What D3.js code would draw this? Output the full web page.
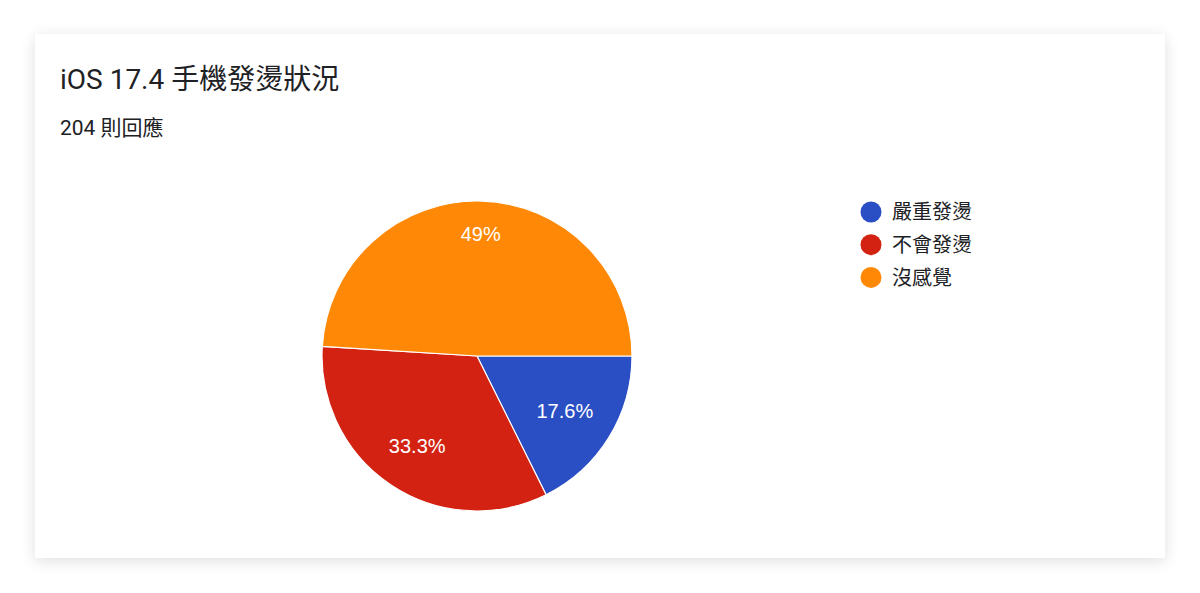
<!DOCTYPE html>
<html>
<head>
<meta charset="utf-8">
<script src="https://cdn.jsdelivr.net/npm/d3@7"></script>
<style>
    html, body { margin: 0; padding: 0; background: #ffffff; }
    #card {
        position: absolute;
        left: 35px; top: 34px;
        width: 1130px; height: 524px;
        background: #ffffff;
        box-shadow: 0 3px 14px rgba(0, 0, 0, 0.13);
    }
    svg { display: block; }
</style>
</head>
<body>
<div id="card"><svg id="pie-chart"></svg></div>
<script>
const categories = ["嚴重發燙", "不會發燙", "沒感覺"];
const responses = [36, 68, 100];
const percentLabels = ["17.6%", "33.3%", "49%"];
const sliceColors = ["#2a4fc4", "#d32212", "#ff8906"];

const titleText = "iOS 17.4 手機發燙狀況";
const subtitleText = "204 則回應";

const dimensions = {
    width: 1130,
    height: 524,
    cx: 442,
    cy: 322,
    radius: 155
};

const cjk = "Roboto, 'Noto Sans CJK TC', sans-serif";

var svg = d3.select("#pie-chart")
    .attr("width", dimensions.width)
    .attr("height", dimensions.height);

svg.append("text")
    .attr("x", 25)
    .attr("y", 55)
    .attr("fill", "#202124")
    .style("font-family", cjk)
    .style("font-size", "28px")
    .text(titleText);

svg.append("text")
    .attr("x", 25)
    .attr("y", 101)
    .attr("fill", "#202124")
    .style("font-family", cjk)
    .style("font-size", "21px")
    .text(subtitleText);

const data = categories.map((c, i) => ({ name: c, value: responses[i], label: percentLabels[i], color: sliceColors[i] }));

// slices start at 3 o'clock and go clockwise
var pie = d3.pie()
    .sort(null)
    .value(d => d.value)
    .startAngle(Math.PI / 2)
    .endAngle(Math.PI / 2 + 2 * Math.PI);

var arc = d3.arc().innerRadius(0).outerRadius(dimensions.radius);

var g = svg.append("g")
    .attr("transform", `translate(${dimensions.cx}, ${dimensions.cy})`);

var arcs = pie(data);

g.selectAll("path")
    .data(arcs)
    .enter()
    .append("path")
    .attr("d", arc)
    .attr("fill", d => d.data.color)
    .attr("stroke", "#ffffff")
    .attr("stroke-width", 1.2);

// labels: push along the mid angle until the far corner of the text box sits near the rim
const rimFraction = 0.85;
g.selectAll(".slice-label")
    .data(arcs)
    .enter()
    .append("text")
    .attr("class", "slice-label")
    .attr("fill", "#ffffff")
    .attr("text-anchor", "middle")
    .attr("dy", "0.36em")
    .style("font-family", "'Liberation Sans', Arial, sans-serif")
    .style("font-size", "20px")
    .text(d => d.data.label)
    .each(function (d) {
        const box = this.getBBox();
        const w = box.width / 2, h = 7.5;
        const a = (d.startAngle + d.endAngle) / 2;
        const ux = Math.sin(a), uy = -Math.cos(a);
        const R = dimensions.radius * rimFraction;
        const b = Math.abs(ux) * w + Math.abs(uy) * h;
        const c = w * w + h * h - R * R;
        const t = -b + Math.sqrt(b * b - c);
        d3.select(this).attr("x", t * ux).attr("y", t * uy);
    });

const legend = svg.selectAll(".legend")
    .data(data)
    .enter()
    .append("g")
    .attr("class", "legend")
    .attr("transform", (d, i) => `translate(836, ${178 + i * 32.7})`);

legend.append("circle")
    .attr("r", 10.5)
    .attr("fill", d => d.color);

legend.append("text")
    .attr("x", 21)
    .attr("dy", "0.36em")
    .attr("fill", "#202124")
    .style("font-family", cjk)
    .style("font-size", "20px")
    .text(d => d.name);
</script>
</body>
</html>
